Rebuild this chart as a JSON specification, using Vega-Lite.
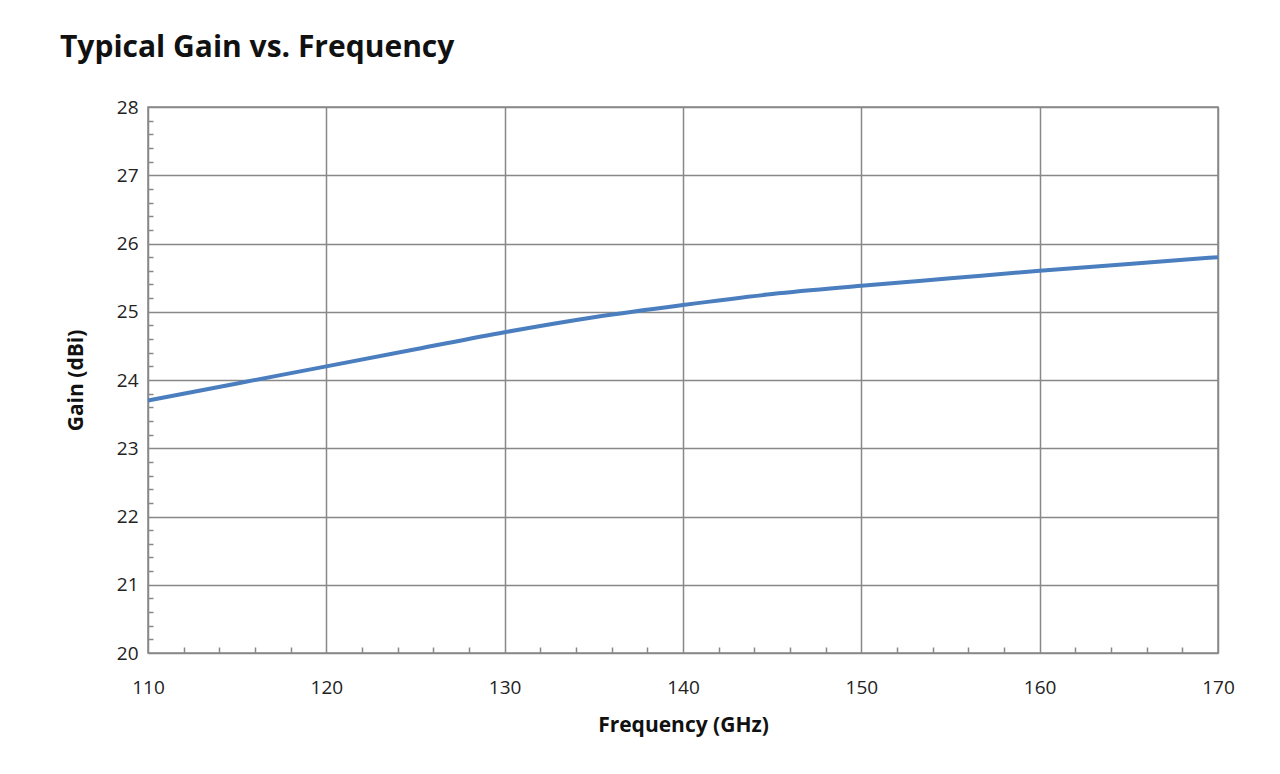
{
  "$schema": "https://vega.github.io/schema/vega-lite/v6.json",
  "width": 1070,
  "height": 546,
  "autosize": {"type": "none"},
  "padding": {"left": 148, "top": 107, "right": 62, "bottom": 121},
  "background": "white",
  "title": {
    "text": "Typical Gain vs. Frequency",
    "anchor": "start",
    "frame": "group",
    "dx": -88,
    "offset": 35,
    "font": "Open Sans",
    "fontSize": 30,
    "fontWeight": "bold",
    "color": "#111111"
  },
  "config": {
    "view": {"stroke": "#888888", "strokeWidth": 1.5},
    "axis": {
      "labelFont": "Open Sans",
      "titleFont": "Open Sans",
      "labelFontSize": 19,
      "titleFontSize": 21,
      "labelColor": "#222222",
      "titleColor": "#111111",
      "titleFontWeight": "bold"
    }
  },
  "data": {
    "values": [
      {"f": 110, "g": 23.7},
      {"f": 115, "g": 23.95},
      {"f": 120, "g": 24.2},
      {"f": 125, "g": 24.45},
      {"f": 130, "g": 24.7},
      {"f": 135, "g": 24.92},
      {"f": 140, "g": 25.1},
      {"f": 145, "g": 25.26},
      {"f": 150, "g": 25.38},
      {"f": 155, "g": 25.49},
      {"f": 160, "g": 25.6},
      {"f": 165, "g": 25.7},
      {"f": 170, "g": 25.8}
    ]
  },
  "layer": [
    {
      "mark": {"type": "line", "opacity": 0},
      "encoding": {
        "x": {
          "field": "f", "type": "quantitative",
          "scale": {"domain": [110, 170], "nice": false},
          "axis": {
            "orient": "top",
            "offset": -546,
            "values": [112, 114, 116, 118, 122, 124, 126, 128, 132, 134, 136, 138, 142, 144, 146, 148, 152, 154, 156, 158, 162, 164, 166, 168],
            "labels": false, "domain": false, "grid": false, "title": null,
            "tickSize": 6, "tickColor": "#888888", "tickWidth": 1.5
          }
        },
        "y": {
          "field": "g", "type": "quantitative",
          "scale": {"domain": [20, 28], "nice": false, "zero": false},
          "axis": {
            "orient": "right",
            "offset": -1070,
            "values": [20.2, 20.4, 20.6, 20.8, 21.2, 21.4, 21.6, 21.8, 22.2, 22.4, 22.6, 22.8, 23.2, 23.4, 23.6, 23.8, 24.2, 24.4, 24.6, 24.8, 25.2, 25.4, 25.6, 25.8, 26.2, 26.4, 26.6, 26.8, 27.2, 27.4, 27.6, 27.8],
            "labels": false, "domain": false, "grid": false, "title": null,
            "tickSize": 5, "tickColor": "#888888", "tickWidth": 1.5
          }
        }
      }
    },
    {
      "mark": {"type": "line", "interpolate": "monotone", "color": "#4a7ebf", "strokeWidth": 4},
      "encoding": {
        "x": {
          "field": "f", "type": "quantitative",
          "scale": {"domain": [110, 170], "nice": false},
          "axis": {
            "orient": "bottom",
            "values": [110, 120, 130, 140, 150, 160, 170],
            "title": "Frequency (GHz)",
            "titlePadding": 17,
            "labelPadding": 25,
            "labelFlush": false,
            "ticks": false,
            "domain": false,
            "grid": true, "gridColor": "#888888", "gridWidth": 1.5, "gridOpacity": 1
          }
        },
        "y": {
          "field": "g", "type": "quantitative",
          "scale": {"domain": [20, 28], "nice": false, "zero": false},
          "axis": {
            "orient": "left",
            "values": [20, 21, 22, 23, 24, 25, 26, 27, 28],
            "title": "Gain (dBi)",
            "titlePadding": 30,
            "labelPadding": 10,
            "labelFlush": false,
            "ticks": false,
            "domain": false,
            "grid": true, "gridColor": "#888888", "gridWidth": 1.5, "gridOpacity": 1
          }
        }
      }
    }
  ],
  "resolve": {"axis": {"x": "independent", "y": "independent"}}
}
